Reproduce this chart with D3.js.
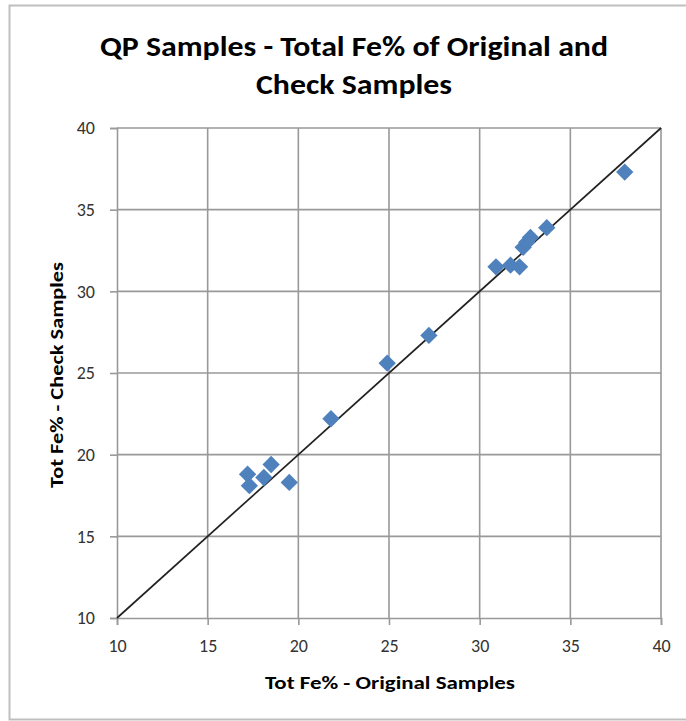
<!DOCTYPE html>
<html>
<head>
<meta charset="utf-8">
<script src="https://cdn.jsdelivr.net/npm/d3@7"></script>
<style>
  body { margin: 0; background: #fff; }
  text { font-family: Carlito, Calibri, Lato, sans-serif; }
</style>
</head>
<body>
<svg id="chart"></svg>
<script>
WIDTH = 686
HEIGHT = 721

// values
original = [17.2, 17.3, 18.1, 18.5, 19.5, 21.8, 24.9, 27.2, 30.9, 31.7, 32.2, 32.4, 32.6, 32.8, 33.7, 38.0];
check    = [18.8, 18.1, 18.6, 19.4, 18.3, 22.2, 25.6, 27.3, 31.5, 31.6, 31.5, 32.7, 33.0, 33.3, 33.9, 37.3];
ticks = [10, 15, 20, 25, 30, 35, 40];
titleLines = ["QP Samples - Total Fe% of Original and", "Check Samples"];
xTitle = "Tot Fe% - Original Samples";
yTitle = "Tot Fe% - Check Samples";

var points = original.map(function (d, i) { return { x: d, y: check[i] }; });

var svg = d3.select("#chart")
    .attr("width", WIDTH)
    .attr("height", HEIGHT);

// outer chart frame
svg.append("rect")
    .attr("x", 9.5).attr("y", 5.5)
    .attr("width", 690).attr("height", 714)
    .attr("fill", "#fff")
    .attr("stroke", "#bfbfbf")
    .attr("stroke-width", 2);

var x = d3.scaleLinear().domain([10, 40]).range([117, 661]);
var y = d3.scaleLinear().domain([10, 40]).range([618, 128]);

// gridlines
svg.append("g")
    .selectAll("line.v")
    .data(ticks.slice(1))
    .enter().append("line")
    .attr("x1", function (d) { return x(d); })
    .attr("x2", function (d) { return x(d); })
    .attr("y1", y(10)).attr("y2", y(40))
    .attr("stroke", "#999")
    .attr("stroke-width", 1.6);

svg.append("g")
    .selectAll("line.h")
    .data(ticks.slice(1))
    .enter().append("line")
    .attr("y1", function (d) { return y(d); })
    .attr("y2", function (d) { return y(d); })
    .attr("x1", x(10)).attr("x2", x(40))
    .attr("stroke", "#999")
    .attr("stroke-width", 1.6);

// axes
var xAxis = svg.append("g")
    .attr("transform", "translate(0," + y(10) + ")")
    .call(d3.axisBottom(x).tickValues(ticks).tickSize(7).tickPadding(14));

var yAxis = svg.append("g")
    .attr("transform", "translate(" + x(10) + ",0)")
    .call(d3.axisLeft(y).tickValues(ticks).tickSize(7).tickPadding(15));

[xAxis, yAxis].forEach(function (g) {
    g.select(".domain").attr("stroke", "#999").attr("stroke-width", 1.6);
    g.selectAll(".tick line").attr("stroke", "#999").attr("stroke-width", 1.6);
    g.selectAll(".tick text")
        .attr("fill", "#333")
        .style("font-size", "18px")
        .style("font-family", "Carlito, Calibri, Lato, sans-serif");
});

// 1:1 line
svg.append("line")
    .attr("x1", x(10)).attr("y1", y(10))
    .attr("x2", x(40)).attr("y2", y(40))
    .attr("stroke", "#222")
    .attr("stroke-width", 1.7);

// data points
svg.append("g")
    .selectAll("path")
    .data(points)
    .enter().append("path")
    .attr("d", d3.symbol(d3.symbolSquare, 150))
    .attr("transform", function (d) { return "translate(" + x(d.x) + "," + y(d.y) + ") rotate(45)"; })
    .attr("fill", "#4f81bd");

// titles
var titleWidths = [508, 196];
svg.append("g")
    .selectAll("text")
    .data(titleLines)
    .enter().append("text")
    .attr("x", 354)
    .attr("y", function (d, i) { return 56 + i * 38; })
    .attr("text-anchor", "middle")
    .attr("textLength", function (d, i) { return titleWidths[i]; })
    .attr("lengthAdjust", "spacingAndGlyphs")
    .style("font-size", "28px")
    .style("font-weight", "bold")
    .attr("fill", "#000")
    .text(function (d) { return d; });

svg.append("text")
    .attr("x", 390)
    .attr("y", 689)
    .attr("text-anchor", "middle")
    .attr("textLength", 250)
    .attr("lengthAdjust", "spacingAndGlyphs")
    .style("font-size", "18px")
    .style("font-weight", "bold")
    .attr("fill", "#000")
    .text(xTitle);

svg.append("text")
    .attr("transform", "translate(63," + 375 + ") rotate(-90)")
    .attr("text-anchor", "middle")
    .attr("textLength", 226)
    .attr("lengthAdjust", "spacingAndGlyphs")
    .style("font-size", "18px")
    .style("font-weight", "bold")
    .attr("fill", "#000")
    .text(yTitle);
</script>
</body>
</html>
